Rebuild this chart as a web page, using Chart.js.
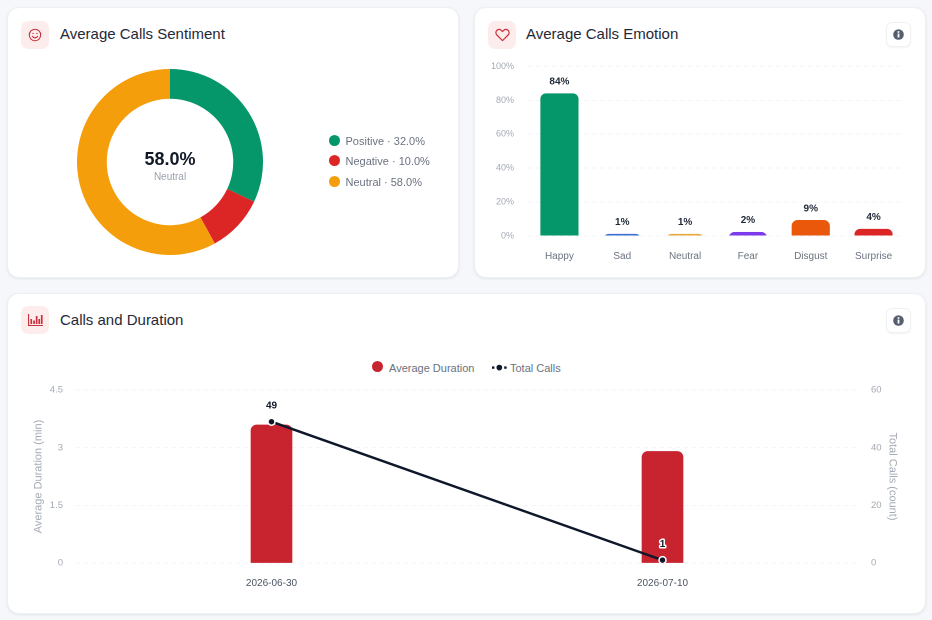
<!DOCTYPE html>
<html lang="en">
<head>
<meta charset="UTF-8">
<title>Calls dashboard</title>
<script src="https://cdn.jsdelivr.net/npm/chart.js@4/dist/chart.umd.min.js"></script>
<style>
  * { box-sizing: border-box; }
  html, body { margin: 0; width: 932px; height: 620px; overflow: hidden; background: #f5f7fa;
               font-family: "Liberation Sans", Arial, sans-serif; }
  .card { position: absolute; background: #fff; border: 1px solid #eef0f3; border-radius: 12px;
          box-shadow: 0 1px 3px rgba(15,23,42,.08); }
  .abs  { position: absolute; }
  .icon { position: absolute; width: 28px; height: 28px; border-radius: 7px; background: #fdecec;
          display: flex; align-items: center; justify-content: center; }
  .title { position: absolute; font-size: 15px; line-height: 18px; color: #1f2937; white-space: nowrap; }
  .info { position: absolute; width: 25px; height: 25px; border-radius: 6px; background: #fff;
          border: 1px solid #f0f1f4; box-shadow: 0 1px 2px rgba(15,23,42,.05);
          display: flex; align-items: center; justify-content: center; }
  canvas { position: absolute; }
  .center-big { position: absolute; left: 120px; width: 100px; top: 148px; text-align: center;
                font-size: 18px; line-height: 22px; font-weight: bold; color: #111827; }
  .center-sub { position: absolute; left: 120px; width: 100px; top: 171px; text-align: center;
                font-size: 10px; line-height: 12px; color: #9ca3af; }
  .leg { position: absolute; font-size: 11px; line-height: 14px; color: #6b7280; white-space: nowrap; }
  .dot { position: absolute; width: 11px; height: 11px; border-radius: 50%; }
</style>
</head>
<body>
<div class="card" style="left:7px;top:7px;width:452px;height:271px"></div>
<div class="card" style="left:474px;top:7px;width:452px;height:271px"></div>
<div class="card" style="left:7px;top:293px;width:919px;height:321px"></div>

<div class="icon" style="left:21px;top:21px">
  <svg width="14" height="14" viewBox="0 0 14 14" fill="none" stroke="#c8303a" stroke-width="1.1">
    <circle cx="7" cy="7" r="5.7"/><path d="M4.4 8.2c.6 1.2 1.5 1.7 2.6 1.7s2-.5 2.6-1.7" stroke-linecap="round"/>
    <circle cx="5" cy="5.4" r=".7" fill="#c8303a" stroke="none"/><circle cx="9" cy="5.4" r=".7" fill="#c8303a" stroke="none"/>
  </svg>
</div>
<div class="title" style="left:60px;top:25px">Average Calls Sentiment</div>

<div class="icon" style="left:488px;top:21px">
  <svg width="15" height="14" viewBox="0 0 15 14" fill="none" stroke="#c8303a" stroke-width="1.2">
    <path d="M7.5 12.6 1.9 7C.5 5.6.6 3.4 2 2.2c1.4-1.1 3.4-.9 4.6.4l.9 1 .9-1c1.2-1.3 3.2-1.5 4.6-.4 1.4 1.2 1.5 3.4.1 4.8z" stroke-linejoin="round"/>
  </svg>
</div>
<div class="title" style="left:526px;top:25px">Average Calls Emotion</div>
<div class="info" style="left:886px;top:22px">
  <svg width="11" height="11" viewBox="0 0 11 11"><circle cx="5.5" cy="5.5" r="5.3" fill="#555e6c"/>
    <rect x="4.6" y="4.6" width="1.8" height="3.9" fill="#fff"/><rect x="4.6" y="2.2" width="1.8" height="1.6" fill="#fff"/></svg>
</div>

<div class="icon" style="left:21px;top:306px">
  <svg width="15" height="12" viewBox="0 0 15 12" fill="#c8303a">
    <rect x="0" y="0" width="1.1" height="12"/><rect x="0" y="11" width="15" height="1"/>
    <rect x="2.4" y="5" width="1.7" height="5"/><rect x="5.2" y="6.5" width="1.7" height="3.5"/>
    <rect x="7.8" y="2" width="1.7" height="8"/><rect x="10.4" y="5" width="1.7" height="5"/><rect x="12.9" y="1" width="1.7" height="9"/>
  </svg>
</div>
<div class="title" style="left:60px;top:311px">Calls and Duration</div>
<div class="info" style="left:886px;top:308px">
  <svg width="11" height="11" viewBox="0 0 11 11"><circle cx="5.5" cy="5.5" r="5.3" fill="#555e6c"/>
    <rect x="4.6" y="4.6" width="1.8" height="3.9" fill="#fff"/><rect x="4.6" y="2.2" width="1.8" height="1.6" fill="#fff"/></svg>
</div>

<canvas id="sentiment" style="left:77px;top:69px;width:186px;height:186px"></canvas>
<div class="center-big" id="centerBig"></div>
<div class="center-sub" id="centerSub"></div>
<div id="sentLegend"></div>

<canvas id="emotion" style="left:474px;top:47px;width:451px;height:230px"></canvas>

<div class="dot" style="left:372px;top:361px;background:#c8242f"></div>
<div class="leg" id="legBar" style="left:389px;top:361px"></div>
<svg class="abs" style="left:492px;top:362px" width="15" height="11" viewBox="0 0 15 11">
  <rect x="0" y="4.4" width="2.4" height="2.4" fill="#0f172a"/><rect x="12.2" y="4.4" width="2.4" height="2.4" fill="#0f172a"/>
  <circle cx="7.3" cy="5.6" r="2.8" fill="#0f172a"/>
</svg>
<div class="leg" id="legLine" style="left:510px;top:361px"></div>

<canvas id="calls" style="left:7px;top:345px;width:918px;height:268px"></canvas>

<script>
// sentiment donut
const sentimentLabels = ['Positive', 'Negative', 'Neutral'];
const sentimentValues = [32.0, 10.0, 58.0];
const sentimentColors = ['#059669', '#dc2626', '#f59e0b'];

// emotion bars
const emotionLabels = ['Happy', 'Sad', 'Neutral', 'Fear', 'Disgust', 'Surprise'];
const emotionValues = [84.2, 1.3, 1.3, 2.4, 9.4, 4.3];
const emotionColors = ['#059669', '#3b6fd0', '#e8a93a', '#7c3aed', '#ea580c', '#dc2626'];
const emotionTicks  = [0, 20, 40, 60, 80, 100];

// calls and duration
const callDates    = ['2026-06-30', '2026-07-10'];
const avgDuration  = [3.59, 2.9];
const totalCalls   = [49, 1];

const FONT = '"Liberation Sans", Arial, sans-serif';
const TICK_GRAY = '#a3a9b3';
const GRID = '#f3f5f7';

Chart.defaults.font.family = FONT;
Chart.defaults.animation = false;
Chart.defaults.responsive = false;
Chart.defaults.devicePixelRatio = 2;

function sizeCanvas(id, w, h) {
  const c = document.getElementById(id);
  c.width = w; c.height = h;
  return c;
}

// text for the donut center and the legends
document.getElementById('centerBig').textContent = sentimentValues[2].toFixed(1) + '%';
document.getElementById('centerSub').textContent = sentimentLabels[2];
document.getElementById('legBar').textContent  = 'Average Duration';
document.getElementById('legLine').textContent = 'Total Calls';
const legendBox = document.getElementById('sentLegend');
sentimentLabels.forEach((name, i) => {
  const y = 140.5 + i * 20.4;
  legendBox.insertAdjacentHTML('beforeend',
    `<div class="dot" style="left:329px;top:${y - 5.5}px;background:${sentimentColors[i]}"></div>` +
    `<div class="leg" style="left:345.5px;top:${y - 6.5}px">${name} · ${sentimentValues[i].toFixed(1)}%</div>`);
});

new Chart(sizeCanvas('sentiment', 186, 186), {
  type: 'doughnut',
  data: {
    labels: sentimentLabels,
    datasets: [{ data: sentimentValues, backgroundColor: sentimentColors, borderWidth: 0 }]
  },
  options: {
    cutout: '68%',
    plugins: { legend: { display: false }, tooltip: { enabled: false } }
  }
});

// Chart.js shrinks the corner radius on very low bars, so the round tops are clipped here
const roundTopsPlugin = {
  id: 'roundTops',
  beforeDatasetDraw(chart) {
    const ctx = chart.ctx;
    ctx.save();
    ctx.beginPath();
    chart.getDatasetMeta(0).data.forEach(bar => {
      ctx.roundRect(bar.x - bar.width / 2, bar.y, bar.width, bar.base - bar.y + 20, [6, 6, 0, 0]);
    });
    ctx.clip();
  },
  afterDatasetDraw(chart) {
    chart.ctx.restore();
  }
};

const emotionLabelPlugin = {
  id: 'emotionLabels',
  afterDatasetsDraw(chart) {
    const ctx = chart.ctx;
    ctx.save();
    ctx.font = `bold 10px ${FONT}`;
    ctx.fillStyle = '#1f2937';
    ctx.textAlign = 'center';
    ctx.textBaseline = 'middle';
    chart.getDatasetMeta(0).data.forEach((bar, i) => {
      ctx.fillText(Math.round(emotionValues[i]) + '%', bar.x, bar.y - 11.5);
    });
    ctx.restore();
  }
};

new Chart(sizeCanvas('emotion', 451, 230), {
  type: 'bar',
  plugins: [roundTopsPlugin, emotionLabelPlugin],
  data: {
    labels: emotionLabels,
    datasets: [{
      data: emotionValues, backgroundColor: emotionColors,
      barPercentage: 0.61, categoryPercentage: 1
    }]
  },
  options: {
    layout: { padding: { top: 14, right: 20, left: 0, bottom: 0 } },
    plugins: { legend: { display: false }, tooltip: { enabled: false } },
    scales: {
      x: {
        afterFit: s => { s.height = 41; },
        grid: { display: false, drawTicks: false },
        border: { display: false },
        ticks: { padding: 14, color: '#6b7280', font: { size: 10 }, maxRotation: 0 }
      },
      y: {
        min: 0, max: 100,
        afterFit: s => { s.width = 54; },
        afterBuildTicks: s => { s.ticks = emotionTicks.map(v => ({ value: v })); },
        grid: { color: GRID, drawTicks: false },
        border: { display: false, dash: [4, 4] },
        ticks: { padding: 14, color: TICK_GRAY, font: { size: 9 }, callback: v => v + '%' }
      }
    }
  }
});

const callsLabelPlugin = {
  id: 'callsLabels',
  afterDatasetsDraw(chart) {
    const ctx = chart.ctx;
    ctx.save();
    ctx.font = `bold 10px ${FONT}`;
    ctx.textAlign = 'center';
    ctx.textBaseline = 'middle';
    ctx.lineJoin = 'round';
    chart.getDatasetMeta(1).data.forEach((pt, i) => {
      ctx.lineWidth = 3;
      ctx.strokeStyle = '#fff';
      ctx.strokeText(String(totalCalls[i]), pt.x, pt.y - 16);
      ctx.fillStyle = '#111827';
      ctx.fillText(String(totalCalls[i]), pt.x, pt.y - 16);
    });
    ctx.restore();
  }
};

new Chart(sizeCanvas('calls', 918, 268), {
  type: 'bar',
  plugins: [callsLabelPlugin],
  data: {
    labels: callDates,
    datasets: [
      {
        label: 'Average Duration', data: avgDuration, yAxisID: 'y', order: 2,
        backgroundColor: '#c8242f', borderRadius: 6, barThickness: 41
      },
      {
        type: 'line', label: 'Total Calls', data: totalCalls, yAxisID: 'y1', order: 1,
        borderColor: '#0f172a', borderWidth: 2.5, tension: 0,
        pointRadius: 3.5, pointBackgroundColor: '#0f172a',
        pointBorderColor: '#fff', pointBorderWidth: 1.5
      }
    ]
  },
  options: {
    layout: { padding: { top: 45, right: 0, left: 0, bottom: 0 } },
    plugins: { legend: { display: false }, tooltip: { enabled: false } },
    scales: {
      x: {
        afterFit: s => { s.height = 50; },
        grid: { display: false, drawTicks: false },
        border: { display: false },
        ticks: { padding: 14, color: '#4b5563', font: { size: 10 }, maxRotation: 0 }
      },
      y: {
        position: 'left', min: 0, max: 4.5,
        afterFit: s => { s.width = 69; },
        afterBuildTicks: s => { s.ticks = [0, 1.5, 3, 4.5].map(v => ({ value: v })); },
        grid: { color: GRID, drawTicks: false },
        border: { display: false, dash: [4, 4] },
        ticks: { padding: 13, color: TICK_GRAY, font: { size: 9.5 }, callback: v => String(v) },
        title: { display: true, text: 'Average Duration (min)', color: TICK_GRAY,
                 font: { size: 11 }, padding: { top: 25, bottom: 0 } }
      },
      y1: {
        position: 'right', min: 0, max: 60,
        afterFit: s => { s.width = 67; },
        afterBuildTicks: s => { s.ticks = [0, 20, 40, 60].map(v => ({ value: v })); },
        grid: { display: false, drawTicks: false },
        border: { display: false },
        ticks: { padding: 13, color: TICK_GRAY, font: { size: 9.5 } },
        title: { display: true, text: 'Total Calls (count)', color: TICK_GRAY,
                 font: { size: 11 }, padding: { top: 26, bottom: 0 } }
      }
    }
  }
});
</script>
</body>
</html>
